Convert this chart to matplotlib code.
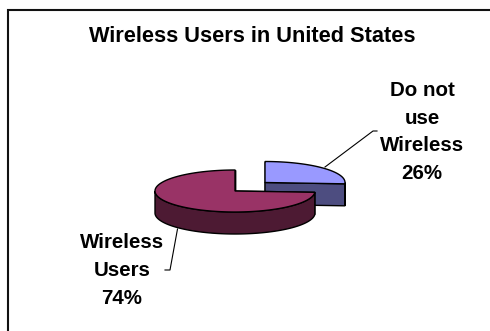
import numpy as np
import matplotlib
matplotlib.use("Agg")
import matplotlib.pyplot as plt
from matplotlib.patches import Polygon

title = "Wireless Users in United States"
categories = ["Do not\nuse\nWireless", "Wireless\nUsers"]
shares = [26, 74]
top_colors = ["#9999ff", "#993366"]
side_colors = ["#4d4d80", "#4d1a33"]

W, H = 490, 331
plt.rcParams["font.family"] = ["Liberation Sans", "DejaVu Sans"]
fig = plt.figure(figsize=(W / 100, H / 100), dpi=100, facecolor="white")
ax = fig.add_axes([0, 0, 1, 1])
ax.set_xlim(0, W)
ax.set_ylim(H, 0)
ax.axis("off")

# Chart frame: left and top edges only
ax.plot([8, 8, 490], [331, 10, 10], color="#111111", lw=1.5, solid_joinstyle="miter")

ax.text(252, 36, title, ha="center", va="center", fontsize=15.7, fontweight="bold", color="black")

RX, RY, DEPTH = 80, 21, 22


def rim(start, stop, cx, cy):
    """Points along the ellipse; angles are degrees clockwise from 12 o'clock."""
    t = np.radians(np.linspace(start, stop, 200))
    return np.column_stack([cx + RX * np.sin(t), cy - RY * np.cos(t)])


def draw_slice(start, stop, cx, cy, top, side):
    # Back cut faces first, so the rounded wall and the lid can cover them
    for angle in (start, stop):
        p = rim(angle, angle, cx, cy)[0]
        face = [(cx, cy), p, p + (0, DEPTH), (cx, cy + DEPTH)]
        ax.add_patch(Polygon(face, fc=side, ec="black", lw=1.0, joinstyle="round"))
    # Only the part of the rim facing the viewer shows a wall
    lo, hi = max(start, 90), min(stop, 270)
    if hi > lo:
        edge = rim(lo, hi, cx, cy)
        wall = np.vstack([edge, edge[::-1] + (0, DEPTH)])
        ax.add_patch(Polygon(wall, fc=side, ec="black", lw=1.0))
    lid = np.vstack([[(cx, cy)], rim(start, stop, cx, cy)])
    ax.add_patch(Polygon(lid, fc=top, ec="black", lw=1.0))


a0 = 0
spans = []
for s in shares:
    spans.append((a0, a0 + s / sum(shares) * 360))
    a0 = spans[-1][1]

draw_slice(*spans[0], 265, 182.5, top_colors[0], side_colors[0])
draw_slice(*spans[1], 235, 191, top_colors[1], side_colors[1])

# Leader lines
ax.plot([325, 373, 377], [167, 131, 131], color="black", lw=0.8)
ax.plot([177.5, 170, 165], [229, 270, 270], color="black", lw=0.8)

ax.text(422, 132, f"{categories[0]}\n{shares[0]}%", ha="center", va="center",
        fontsize=14.8, fontweight="bold", linespacing=1.58)
ax.text(122, 270.5, f"{categories[1]}\n{shares[1]}%", ha="center", va="center",
        fontsize=14.8, fontweight="bold", linespacing=1.58)

fig.savefig("out.png", dpi=100)
